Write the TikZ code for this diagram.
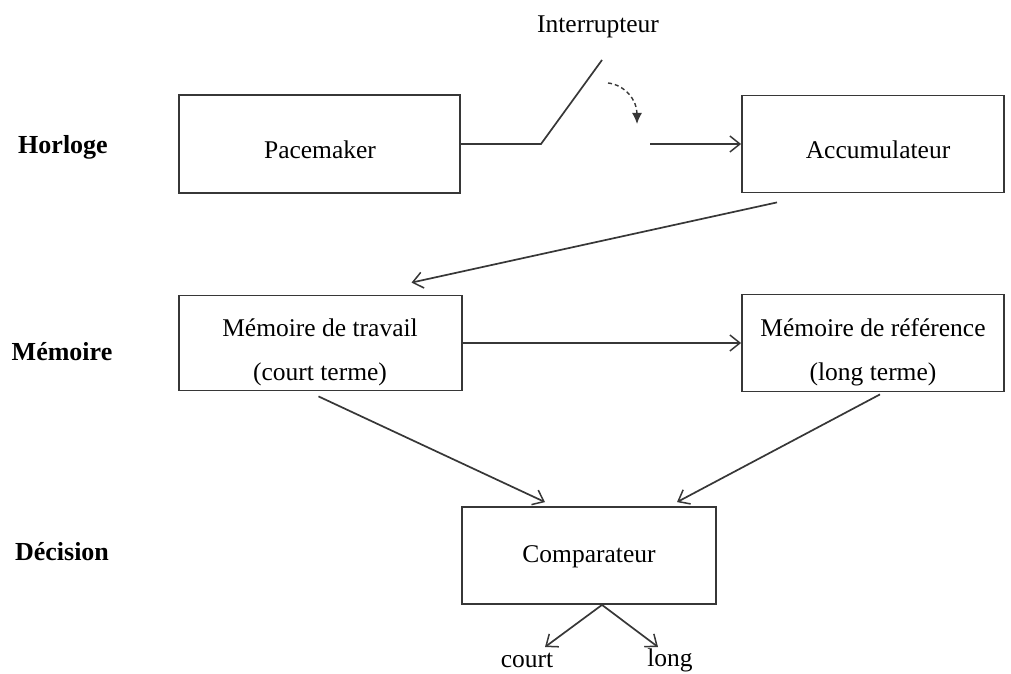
\documentclass[tikz,border=0pt]{standalone}
\usepackage{fontspec}
\setmainfont{Liberation Serif}
\usetikzlibrary{arrows.meta}
\definecolor{ln}{RGB}{55,55,55}
\tikzset{
  box/.style={draw=ln, line width=1.8pt, inner sep=0pt},
  txt/.style={font=\fontsize{25.5}{44}\selectfont, align=center, inner sep=0pt},
  lbl/.style={font=\fontsize{26}{30}\selectfont\bfseries, inner sep=0pt},
  wire/.style={draw=ln, line width=1.7pt},
  arr/.style={wire, -{Straight Barb[length=10pt,width=16pt,line width=1.5pt]}},
}
\begin{document}
\begin{tikzpicture}[x=1pt,y=-1pt]
\useasboundingbox (0,0) rectangle (1011,674);
% boxes
\node[box, minimum width=281pt, minimum height=98pt] (pace) at (319.5,144) {};
\node[box, minimum width=262pt, minimum height=97pt] (acc) at (873,144) {};
\node[box, minimum width=283pt, minimum height=95pt] (memt) at (320.5,343) {};
\node[box, minimum width=262pt, minimum height=97pt] (memr) at (873,343) {};
\node[box, minimum width=254pt, minimum height=97pt] (comp) at (589,555.5) {};
% box texts
\node[txt] (tpace) at (320,150) {Pacemaker};
\node[txt] (tacc) at (878,150) {Accumulateur};
\node[txt] (tmemt) at (320,352) {Mémoire de travail\\(court terme)};
\node[txt] (tmemr) at (873,352) {Mémoire de référence\\(long terme)};
\node[txt] (tcomp) at (589,557) {Comparateur};
% row labels
\node[lbl] (horloge) at (63,147) {Horloge};
\node[lbl] (memoire) at (62,352) {Mémoire};
\node[lbl] (decision) at (62,552) {Décision};
\node[txt] (inter) at (598,27) {Interrupteur};
% switch
\coordinate (sw1) at (541,144);
\coordinate (sw2) at (602,60);
\coordinate (sw3) at (650,144);
\draw[wire] (pace.east) -- (sw1) -- (sw2);
\draw[arr] (sw3) -- (acc.west);
\coordinate (d1) at (608,83);
\coordinate (d2) at (637,124);
\draw[draw=ln, line width=1.4pt, dash pattern=on 4pt off 3pt, -{Latex[length=11pt,width=10pt]}] (d1) .. controls (625,85) and (637,100) .. (d2);
% connectors
\draw[arr] ([xshift=-96pt,yshift=-9pt]acc.south) -- ([xshift=91pt,yshift=12pt]memt.north);
\draw[arr] (memt.east) -- (memr.west);
\draw[arr] ([xshift=-2pt,yshift=-5pt]memt.south) -- ([xshift=-44pt,yshift=4pt]comp.north);
\draw[arr] ([xshift=7pt,yshift=-2pt]memr.south) -- ([xshift=88pt,yshift=4pt]comp.north);
% outputs
\node[txt] (court) at (527,660) {court};
\node[txt] (long) at (670,660) {long};
\coordinate (ct) at (545,647);
\coordinate (lt) at (658,647);
\draw[arr] ([xshift=13pt]comp.south) -- (ct);
\draw[arr] ([xshift=13pt]comp.south) -- (lt);
\end{tikzpicture}
\end{document}
